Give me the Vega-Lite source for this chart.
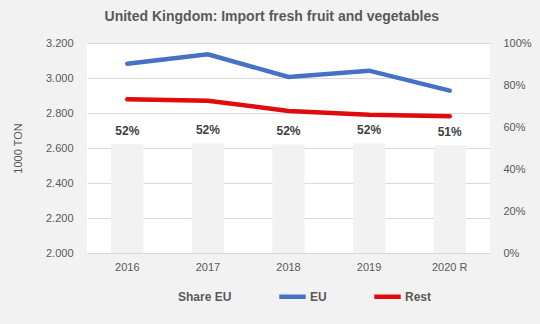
{
  "$schema": "https://vega.github.io/schema/vega-lite/v6.json",
  "width": 540,
  "height": 324,
  "autosize": {"type": "fit", "contains": "padding"},
  "padding": {"left": 12, "right": 8, "top": 10, "bottom": 18},
  "background": "#f2f2f2",
  "title": {
    "text": "United Kingdom: Import fresh fruit and vegetables",
    "font": "Liberation Sans",
    "fontSize": 14,
    "fontWeight": "bold",
    "color": "#595959",
    "offset": 13,
    "frame": "bounds"
  },
  "config": {
    "locale": {"number": {"decimal": ",", "thousands": ".", "grouping": [3], "currency": ["", " €"]}},
    "font": "Liberation Sans",
    "view": {"fill": "white", "stroke": null},
    "axis": {"labelFont": "Liberation Sans", "labelFontSize": 11, "labelColor": "#595959", "titleColor": "#595959", "domain": false, "ticks": false},
    "legend": {
      "orient": "bottom",
      "direction": "horizontal",
      "title": null,
      "symbolType": "stroke",
      "symbolStrokeWidth": 4.5,
      "symbolSize": 700,
      "labelFont": "Liberation Sans",
      "labelFontSize": 12,
      "labelFontWeight": "bold",
      "labelColor": "#595959",
      "labelOffset": 2,
      "columnPadding": 38,
      "offset": 9,
      "layout": {"bottom": {"anchor": "middle"}}
    }
  },
  "data": {
    "values": [
      {"year": "2016", "EU": 3082, "Rest": 2878, "share": 0.518},
      {"year": "2017", "EU": 3135, "Rest": 2870, "share": 0.523},
      {"year": "2018", "EU": 3006, "Rest": 2812, "share": 0.517},
      {"year": "2019", "EU": 3042, "Rest": 2790, "share": 0.522},
      {"year": "2020 R", "EU": 2928, "Rest": 2782, "share": 0.513}
    ]
  },
  "encoding": {
    "x": {
      "field": "year",
      "type": "ordinal",
      "sort": null,
      "scale": {"paddingInner": 0.6, "paddingOuter": 0.3},
      "axis": {"title": null, "labelAngle": 0, "labelPadding": 8, "grid": false}
    }
  },
  "layer": [
    {
      "mark": {"type": "bar"},
      "encoding": {
        "y": {
          "field": "share",
          "type": "quantitative",
          "scale": {"domain": [0, 1]},
          "axis": {"orient": "right", "format": ".0%", "values": [0, 0.2, 0.4, 0.6, 0.8, 1], "grid": false, "title": null, "labelPadding": 13}
        },
        "color": {
          "datum": "Share EU",
          "scale": {"domain": ["Share EU", "EU", "Rest"], "range": ["#f2f2f2", "#4472c4", "#e00b0b"]},
          "legend": {"symbolType": "stroke"}
        }
      }
    },
    {
      "mark": {"type": "text", "baseline": "bottom", "dy": -6, "fontSize": 12, "fontWeight": "bold", "color": "#404040"},
      "encoding": {
        "y": {"field": "share", "type": "quantitative", "scale": {"domain": [0, 1]}, "axis": null},
        "text": {"field": "share", "type": "quantitative", "format": ".0%"}
      }
    },
    {
      "transform": [{"fold": ["EU", "Rest"], "as": ["series", "value"]}],
      "mark": {"type": "line", "strokeWidth": 4.5, "strokeCap": "round"},
      "encoding": {
        "y": {
          "field": "value",
          "type": "quantitative",
          "scale": {"domain": [2000, 3200], "zero": false},
          "axis": {"orient": "left", "format": ",.0f", "values": [2000, 2200, 2400, 2600, 2800, 3000, 3200], "grid": true, "gridColor": "#d9d9d9", "title": "1000 TON", "titleFontWeight": "normal", "titleFontSize": 11, "titlePadding": 22, "labelPadding": 14}
        },
        "color": {
          "field": "series",
          "type": "nominal",
          "scale": {"domain": ["Share EU", "EU", "Rest"], "range": ["#f2f2f2", "#4472c4", "#e00b0b"]}
        }
      }
    }
  ],
  "resolve": {"scale": {"y": "independent"}}
}
